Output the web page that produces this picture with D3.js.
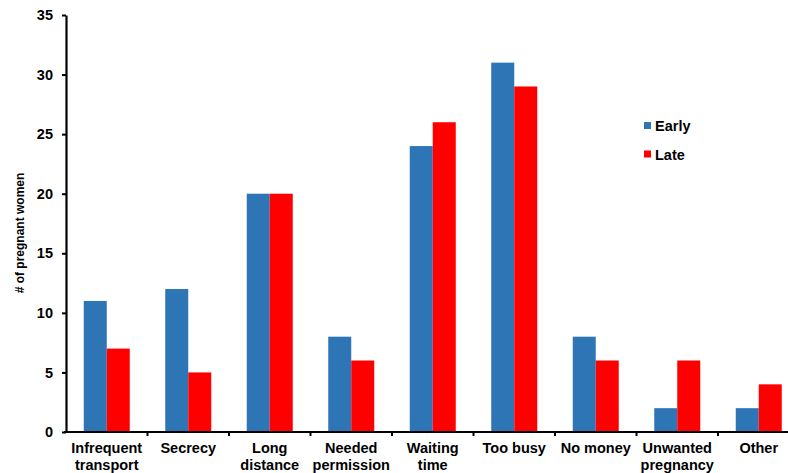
<!DOCTYPE html>
<html>
<head>
<meta charset="utf-8">
<script src="https://cdn.jsdelivr.net/npm/d3@7"></script>
<style>
  body { margin: 0; background: #fff; }
  text { font-family: "Liberation Sans", Arial, sans-serif; font-weight: bold; fill: #000; }
</style>
</head>
<body>
<div id="chart"></div>
<script>
// categories, each label split over two lines
let categories = [['Infrequent', 'transport'], ['Secrecy'], ['Long', 'distance'], ['Needed', 'permission'],
  ['Waiting', 'time'], ['Too busy'], ['No money'], ['Unwanted', 'pregnancy'], ['Other']];
let early = [11, 12, 20, 8, 24, 31, 8, 2, 2];
let late = [7, 5, 20, 6, 26, 29, 6, 6, 4];
let seriesNames = ['Early', 'Late'];
let yTicks = [0, 5, 10, 15, 20, 25, 30, 35];

let w = 788;
let h = 473;
let colors = ['#2E75B6', '#FF0000'];

let svg = d3.select('#chart').
append('svg').
attr('width', w).
attr('height', h);

let keys = categories.map(d => d.join(' '));

//x scales: one for categories, one inside each category for the series
let x0 = d3.scaleBand().
domain(keys).
range([66, 799.5]).
padding(0);

let x1 = d3.scaleBand().
domain(seriesNames).
range([17.75, 17.75 + 46]);

let y = d3.scaleLinear().
domain([0, 35]).
range([432, 15]);

//bars
let rows = keys.map((k, i) => ({ key: k, values: [early[i], late[i]] }));

let groups = svg.selectAll('g.group').
data(rows).
enter().
append('g').
attr('class', 'group').
attr('transform', d => 'translate(' + x0(d.key) + ',0)');

groups.selectAll('rect').
data(d => d.values.map((v, j) => ({ name: seriesNames[j], value: v, j: j }))).
enter().
append('rect').
attr('x', d => x1(d.name)).
attr('width', x1.bandwidth()).
attr('y', d => y(d.value)).
attr('height', d => y(0) - y(d.value)).
attr('fill', d => colors[d.j]);

//y axis
let yAxis = d3.axisLeft(y).tickValues(yTicks).tickSize(4).tickSizeOuter(0).tickPadding(9);
let gy = svg.append('g').
attr('transform', 'translate(66,0)').
call(yAxis);
gy.select('.domain').attr('stroke-width', 2.2);
gy.selectAll('.tick line').attr('stroke-width', 2);
gy.selectAll('.tick text').style('font-size', '14.5px');

//x axis: ticks on the band boundaries
let bounds = keys.map(k => x0(k) + x0.bandwidth());
let gx = svg.append('g').
attr('transform', 'translate(0,432)');
gx.append('line').
attr('x1', 64).
attr('x2', 800).
attr('stroke', '#000').
attr('stroke-width', 2.2);
gx.selectAll('line.tk').
data(bounds).
enter().
append('line').
attr('class', 'tk').
attr('x1', d => d).
attr('x2', d => d).
attr('y1', 0).
attr('y2', 4).
attr('stroke', '#000').
attr('stroke-width', 2);

let labels = gx.selectAll('text.cat').
data(categories).
enter().
append('text').
attr('class', 'cat').
attr('text-anchor', 'middle').
attr('x', (d, i) => x0(keys[i]) + x0.bandwidth() / 2).
attr('y', 21).
style('font-size', '14.5px');
labels.selectAll('tspan').
data(d => d).
enter().
append('tspan').
attr('x', function () { return d3.select(this.parentNode).attr('x'); }).
attr('dy', (d, i) => i === 0 ? 0 : 17).
text(d => d);

//y title
svg.append('text').
attr('transform', 'translate(24,233) rotate(-90)').
attr('text-anchor', 'middle').
style('font-size', '12px').
text('# of pregnant women');

//legend
let legend = svg.selectAll('g.legend').
data(seriesNames).
enter().
append('g').
attr('class', 'legend').
attr('transform', (d, i) => 'translate(644,' + (122 + i * 28.5) + ')');
legend.append('rect').
attr('width', 7).
attr('height', 7).
attr('fill', (d, i) => colors[i]);
legend.append('text').
attr('x', 11).
attr('y', 9).
style('font-size', '14.5px').
text(d => d);
</script>
</body>
</html>
